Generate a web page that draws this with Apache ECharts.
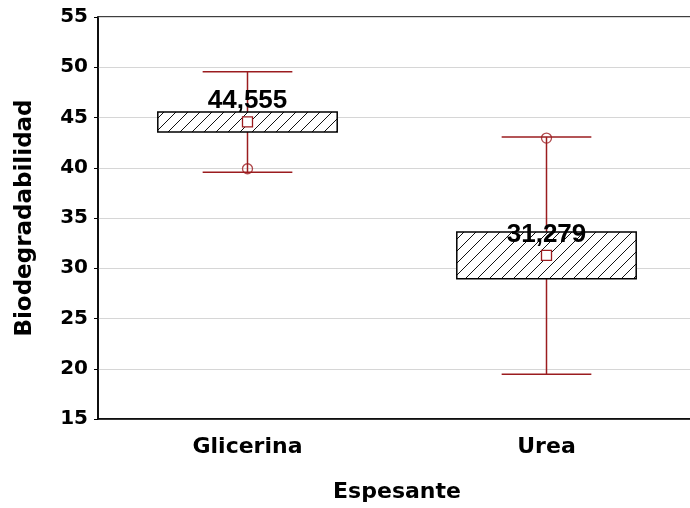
<!DOCTYPE html>
<html><head><meta charset="utf-8">
<script src="https://cdn.jsdelivr.net/npm/echarts@6/dist/echarts.min.js"></script>
<style>html,body{margin:0;padding:0;background:#fff;overflow:hidden}#c{width:696px;height:508px}</style>
</head><body><div id="c"></div>
<script>
// ---- data ----
const categories = ['Glicerina', 'Urea'];
const means = [44.555, 31.279];
const boxLow = [43.555, 28.95];
const boxHigh = [45.555, 33.61];
const whiskerLow = [39.55, 19.45];
const whiskerHigh = [49.55, 43.07];
const pointCat = [0, 1];
const pointVal = [39.9, 42.95];
const meanLabels = ['44,555', '31,279'];
const yMin = 15, yMax = 55, yInterval = 5;

// ---- styles ----
const RED = '#9b1c1f';
const FONT = '"DejaVu Sans", sans-serif';
const LFONT = '"Liberation Sans", Arial, sans-serif';

const pc = document.createElement('canvas');
pc.width = 12; pc.height = 12;
const g = pc.getContext('2d');
g.fillStyle = '#fff'; g.fillRect(0, 0, 12, 12);
g.strokeStyle = '#111'; g.lineWidth = 1;
g.beginPath();
g.moveTo(0, 12); g.lineTo(12, 0);
g.moveTo(-1, 1); g.lineTo(1, -1);
g.moveTo(11, 13); g.lineTo(13, 11);
g.stroke();

const boxData = categories.map((c, i) => [i, whiskerLow[i], boxLow[i], means[i], boxHigh[i], whiskerHigh[i]]);
const pointData = pointCat.map((c, i) => [c, pointVal[i]]);

const chart = echarts.init(document.getElementById('c'));
chart.setOption({
  animation: false,
  backgroundColor: '#fff',
  grid: { left: 98, top: 17, right: 0, bottom: 89, show: true, borderColor: '#000', borderWidth: 1.5, backgroundColor: 'transparent' },
  xAxis: {
    type: 'category', data: categories,
    axisLine: { lineStyle: { color: '#000', width: 1.5 } },
    axisTick: { inside: true, length: 5, alignWithLabel: true, lineStyle: { color: '#000' } },
    axisLabel: { color: '#000', fontFamily: FONT, fontWeight: 'bold', fontSize: 22, margin: 17 },
    name: 'Espesante', nameLocation: 'middle', nameGap: 62,
    nameTextStyle: { color: '#000', fontFamily: FONT, fontWeight: 'bold', fontSize: 22 }
  },
  yAxis: {
    type: 'value', min: yMin, max: yMax, interval: yInterval,
    axisLine: { show: true, lineStyle: { color: '#000', width: 1.5 } },
    axisTick: { show: true, inside: false, length: 4, lineStyle: { color: '#000' } },
    axisLabel: { color: '#000', fontFamily: FONT, fontWeight: 'bold', fontSize: 20, margin: 10 },
    splitLine: { show: true, lineStyle: { color: '#d6d6d6', width: 1 } },
    name: 'Biodegradabilidad', nameLocation: 'middle', nameGap: 61,
    nameTextStyle: { color: '#000', fontFamily: FONT, fontWeight: 'bold', fontSize: 23 }
  },
  series: [
    {
      type: 'custom',
      data: boxData,
      renderItem: function (params, api) {
        const i = api.value(0);
        const x = api.coord([i, api.value(3)])[0];
        const yM = api.coord([i, api.value(3)])[1];
        const yWL = api.coord([i, api.value(1)])[1];
        const yBL = api.coord([i, api.value(2)])[1];
        const yBH = api.coord([i, api.value(4)])[1];
        const yWH = api.coord([i, api.value(5)])[1];
        const bw = api.size([1, 0])[0] * 0.6;
        const cw = bw / 2;
        const ls = { stroke: RED, lineWidth: 1.5 };
        return {
          type: 'group',
          children: [
            { type: 'line', shape: { x1: x, y1: yWH, x2: x, y2: yBH }, style: ls },
            { type: 'line', shape: { x1: x, y1: yBL, x2: x, y2: yWL }, style: ls },
            { type: 'line', shape: { x1: x - cw / 2, y1: yWH, x2: x + cw / 2, y2: yWH }, style: ls },
            { type: 'line', shape: { x1: x - cw / 2, y1: yWL, x2: x + cw / 2, y2: yWL }, style: ls },
            { type: 'rect', shape: { x: x - bw / 2, y: yBH, width: bw, height: yBL - yBH },
              style: { fill: { image: pc, repeat: 'repeat' }, stroke: '#000', lineWidth: 1.5 } },
            { type: 'rect', shape: { x: x - 5, y: yM - 5, width: 10, height: 10 },
              style: { fill: '#fff', stroke: RED, lineWidth: 1.3 } },
            { type: 'text', x: x, y: yM - 8,
              style: { text: meanLabels[params.dataIndex], textAlign: 'center', textVerticalAlign: 'bottom',
                fill: '#000', font: 'bold 26px ' + LFONT } }
          ]
        };
      },
      z: 2
    },
    {
      type: 'scatter', data: pointData, symbol: 'circle', symbolSize: 10,
      itemStyle: { color: 'transparent', borderColor: RED, borderWidth: 1.3 }, z: 3
    }
  ]
});
</script></body></html>
